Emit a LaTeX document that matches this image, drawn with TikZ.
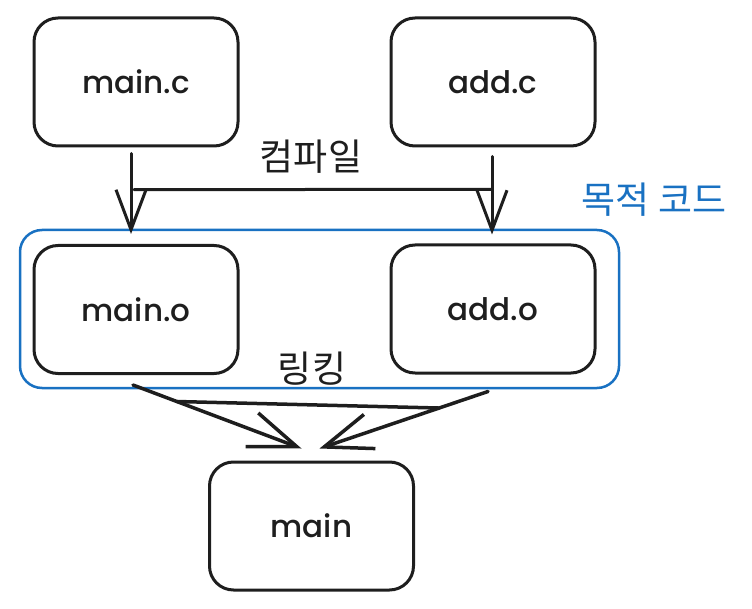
\documentclass[tikz,border=0pt]{standalone}
\usepackage{fontspec}
\setmainfont{Poppins}[BoldFont={Poppins Medium}]
\newfontfamily\krfont{Noto Sans CJK KR}
\usetikzlibrary{arrows.meta}
\definecolor{ink}{HTML}{1E1E1E}
\definecolor{objblue}{HTML}{1971C2}

\begin{document}
\begin{tikzpicture}[line cap=round,line join=round,x=1pt,y=-1pt,
	filebox/.style={draw=ink,line width=3pt,rounded corners=24pt,minimum width=204pt,minimum height=128pt,text=ink,font=\fontsize{31}{33}\selectfont\bfseries},
	objbox/.style={draw=objblue,line width=2.5pt,rounded corners=22pt,minimum width=599pt,minimum height=158pt},
	flow/.style={draw=ink,line width=3pt,-{Straight Barb[length=40pt,width=30pt,line width=3pt]}},
	linkflow/.style={draw=ink,line width=3.5pt,-{Straight Barb[length=48pt,width=36pt,line width=3.5pt]}},
	krlabel/.style={font=\krfont\fontsize{37}{39}\selectfont}]
	\useasboundingbox (0,0) rectangle (752,609);
	\node[objbox] (obj) at (319.5,309) {};
	\node[filebox] (mainc) at (136,82) {main.c};
	\node[filebox] (addc) at (493,82) {add.c};
	\node[filebox] (maino) at (136,309.5) {main.o};
	\node[filebox] (addo) at (493,309) {add.o};
	\node[filebox] (main) at (311.5,526) {main};
	\draw[flow] ([xshift=-5pt,yshift=-6pt]mainc.south) -- coordinate[pos=0.45] (compl) ([xshift=-5pt,yshift=10pt]maino.north);
	\draw[flow] ([xshift=-1pt,yshift=-9pt]addc.south) -- coordinate[pos=0.42] (compr) ([xshift=-1pt,yshift=9pt]addo.north);
	\draw[draw=ink,line width=3pt] ([xshift=3pt]compl) -- (compr);
	\draw[linkflow] ([xshift=-3pt,yshift=-10pt]maino.south) -- coordinate[pos=0.26] (linkl) ([xshift=-10pt,yshift=12pt]main.north);
	\draw[linkflow] ([xshift=-5pt,yshift=-17pt]addo.south) -- coordinate[pos=0.29] (linkr) ([xshift=8pt,yshift=12pt]main.north);
	\draw[draw=ink,line width=3.5pt] (linkl) -- (linkr);
	\node[krlabel,text=ink] (compile) at (311,157) {컴파일};
	\node[krlabel,text=objblue] (objcode) at (654,200) {목적 코드};
	\node[krlabel,text=ink] (linking) at (312,369) {링킹};
\end{tikzpicture}
\end{document}
